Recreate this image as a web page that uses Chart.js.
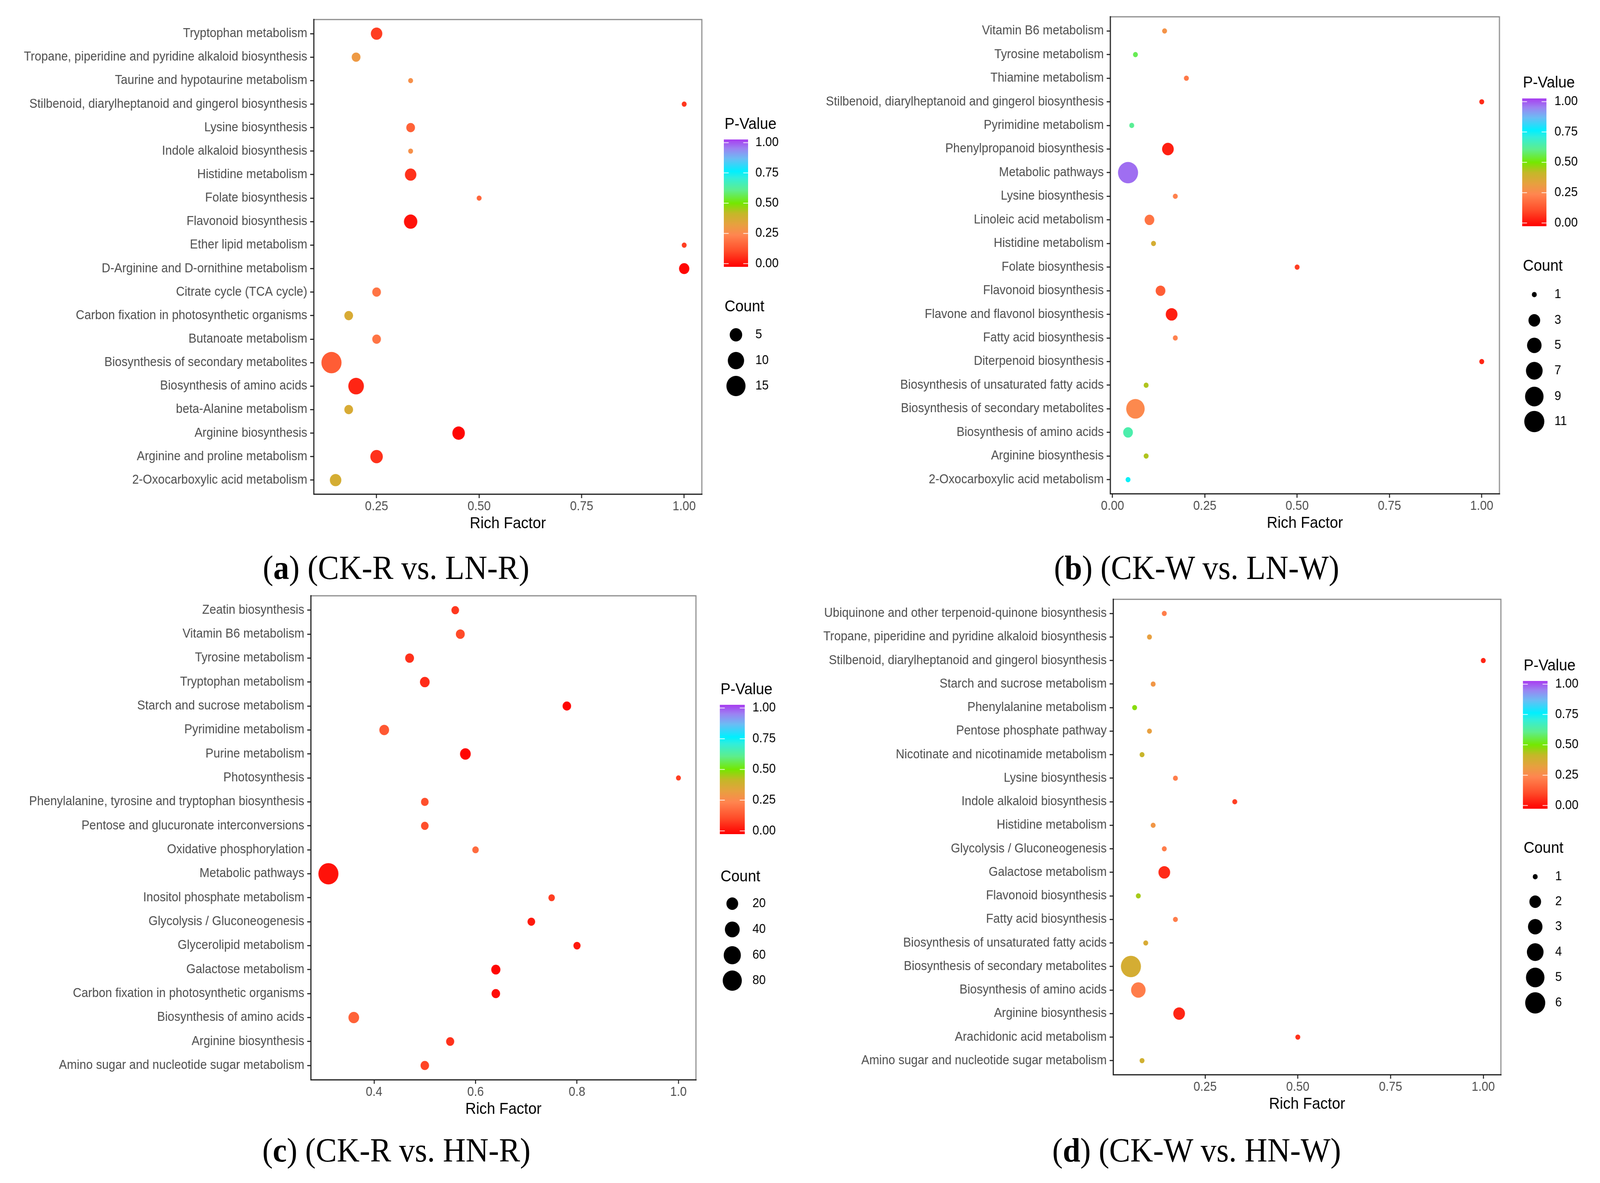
<!DOCTYPE html>
<html><head><meta charset="utf-8">
<script src="https://cdn.jsdelivr.net/npm/chart.js@4.4.1/dist/chart.umd.min.js"></script>
<style>
html,body{margin:0;padding:0;background:#fff;overflow:hidden;}
#page{width:4359px;height:3028px;position:relative;overflow:hidden;background:#fff;transform-origin:0 0;}
.panel{position:absolute;}
.cap{position:absolute;transform:translate(-50%,-50%);font-family:"Liberation Serif","Times New Roman",serif;font-size:86px;color:#000;white-space:nowrap;line-height:1;}
</style></head><body>
<div id="page">
<div class="panel" style="left:0px;top:0px"><canvas id="cA" width="2180" height="1400"></canvas></div>
<div class="panel" style="left:2180px;top:0px"><canvas id="cB" width="2179" height="1400"></canvas></div>
<div class="panel" style="left:0px;top:1480px"><canvas id="cC" width="2180" height="1400"></canvas></div>
<div class="panel" style="left:2180px;top:1480px"><canvas id="cD" width="2179" height="1400"></canvas></div>
<div class="cap" style="left:1079px;top:1453px">(<b>a</b>) (CK-R vs. LN-R)</div>
<div class="cap" style="left:3260px;top:1453px">(<b>b</b>) (CK-W vs. LN-W)</div>
<div class="cap" style="left:1080px;top:2944px">(<b>c</b>) (CK-R vs. HN-R)</div>
<div class="cap" style="left:3260px;top:2944px">(<b>d</b>) (CK-W vs. HN-W)</div>
</div>
<script>
// fit the 4359-wide page into the actual window width
(function(){
  const sx = Math.min(1, window.innerWidth/4359);
  const sy = Math.min(1, window.innerHeight/3028);
  document.getElementById('page').style.transform='scale('+sx+','+sy+')';
})();

// ---------------- DATA ----------------
const catsA = ["Tryptophan metabolism","Tropane, piperidine and pyridine alkaloid biosynthesis","Taurine and hypotaurine metabolism","Stilbenoid, diarylheptanoid and gingerol biosynthesis","Lysine biosynthesis","Indole alkaloid biosynthesis","Histidine metabolism","Folate biosynthesis","Flavonoid biosynthesis","Ether lipid metabolism","D-Arginine and D-ornithine metabolism","Citrate cycle (TCA cycle)","Carbon fixation in photosynthetic organisms","Butanoate metabolism","Biosynthesis of secondary metabolites","Biosynthesis of amino acids","beta-Alanine metabolism","Arginine biosynthesis","Arginine and proline metabolism","2-Oxocarboxylic acid metabolism"];
const richA = [0.25,0.20,0.333,1.0,0.333,0.333,0.333,0.5,0.333,1.0,1.0,0.25,0.182,0.25,0.14,0.20,0.182,0.45,0.25,0.15];
const countA = [4,2,1,1,2,1,4,1,6,1,3,2,2,2,17,9,2,5,5,4];
const pvalA = [0.10,0.31,0.28,0.09,0.17,0.28,0.08,0.18,0.03,0.10,0.01,0.21,0.37,0.21,0.16,0.06,0.37,0.01,0.08,0.38];
const xTicksA = [0.25,0.50,0.75,1.00];
const countBreaksA = [5,10,15];

const catsB = ["Vitamin B6 metabolism","Tyrosine metabolism","Thiamine metabolism","Stilbenoid, diarylheptanoid and gingerol biosynthesis","Pyrimidine metabolism","Phenylpropanoid biosynthesis","Metabolic pathways","Lysine biosynthesis","Linoleic acid metabolism","Histidine metabolism","Folate biosynthesis","Flavonoid biosynthesis","Flavone and flavonol biosynthesis","Fatty acid biosynthesis","Diterpenoid biosynthesis","Biosynthesis of unsaturated fatty acids","Biosynthesis of secondary metabolites","Biosynthesis of amino acids","Arginine biosynthesis","2-Oxocarboxylic acid metabolism"];
const richB = [0.141,0.062,0.20,1.0,0.052,0.15,0.042,0.17,0.10,0.111,0.5,0.13,0.16,0.17,1.0,0.091,0.062,0.042,0.091,0.042];
const countB = [1,1,1,1,1,3,11,1,2,1,1,2,3,1,1,1,9,2,1,1];
const pvalB = [0.29,0.56,0.22,0.07,0.61,0.05,0.95,0.24,0.21,0.38,0.10,0.16,0.05,0.24,0.06,0.44,0.26,0.64,0.44,0.74];
const xTicksB = [0.00,0.25,0.50,0.75,1.00];
const countBreaksB = [1,3,5,7,9,11];

const catsC = ["Zeatin biosynthesis","Vitamin B6 metabolism","Tyrosine metabolism","Tryptophan metabolism","Starch and sucrose metabolism","Pyrimidine metabolism","Purine metabolism","Photosynthesis","Phenylalanine, tyrosine and tryptophan biosynthesis","Pentose and glucuronate interconversions","Oxidative phosphorylation","Metabolic pathways","Inositol phosphate metabolism","Glycolysis / Gluconeogenesis","Glycerolipid metabolism","Galactose metabolism","Carbon fixation in photosynthetic organisms","Biosynthesis of amino acids","Arginine biosynthesis","Amino sugar and nucleotide sugar metabolism"];
const richC = [0.56,0.57,0.47,0.50,0.78,0.42,0.58,1.0,0.50,0.50,0.60,0.31,0.75,0.71,0.80,0.64,0.64,0.36,0.55,0.50];
const countC = [5,8,8,11,7,11,15,2,5,5,3,91,3,5,4,9,7,15,6,7];
const pvalC = [0.09,0.12,0.08,0.07,0.01,0.15,0.01,0.10,0.13,0.13,0.19,0.03,0.10,0.04,0.04,0.01,0.02,0.17,0.08,0.11];
const xTicksC = [0.4,0.6,0.8,1.0];
const countBreaksC = [20,40,60,80];

const catsD = ["Ubiquinone and other terpenoid-quinone biosynthesis","Tropane, piperidine and pyridine alkaloid biosynthesis","Stilbenoid, diarylheptanoid and gingerol biosynthesis","Starch and sucrose metabolism","Phenylalanine metabolism","Pentose phosphate pathway","Nicotinate and nicotinamide metabolism","Lysine biosynthesis","Indole alkaloid biosynthesis","Histidine metabolism","Glycolysis / Gluconeogenesis","Galactose metabolism","Flavonoid biosynthesis","Fatty acid biosynthesis","Biosynthesis of unsaturated fatty acids","Biosynthesis of secondary metabolites","Biosynthesis of amino acids","Arginine biosynthesis","Arachidonic acid metabolism","Amino sugar and nucleotide sugar metabolism"];
const richD = [0.14,0.10,1.0,0.11,0.06,0.10,0.08,0.17,0.33,0.11,0.14,0.14,0.07,0.17,0.09,0.05,0.07,0.18,0.50,0.08];
const countD = [1,1,1,1,1,1,1,1,1,1,1,2,1,1,1,6,3,2,1,1];
const pvalD = [0.23,0.33,0.06,0.30,0.48,0.33,0.41,0.23,0.10,0.30,0.23,0.07,0.45,0.23,0.37,0.38,0.23,0.06,0.08,0.39];
const xTicksD = [0.25,0.50,0.75,1.00];
const countBreaksD = [1,2,3,4,5,6];

const pBreaks = [0,0.25,0.5,0.75,1];

// ---------------- STYLE HELPERS ----------------
const FONT = '"Liberation Sans", Arial, sans-serif';
const colorStops = [[0,'#FF0000'],[0.125,'#FF4D2A'],[0.25,'#FF8650'],[0.33,'#E8A040'],[0.42,'#C4B828'],[0.5,'#74E800'],[0.6,'#5EEE8C'],[0.7,'#30EEDD'],[0.75,'#00F0FF'],[0.85,'#6CBCF4'],[0.93,'#9C82F2'],[1,'#A83CF0']];
function hex2rgb(h){return [parseInt(h.substr(1,2),16),parseInt(h.substr(3,2),16),parseInt(h.substr(5,2),16)];}
function pColor(p){
  p=Math.max(0,Math.min(1,p));
  for(let i=1;i<colorStops.length;i++){
    if(p<=colorStops[i][0]){
      const a=colorStops[i-1], b=colorStops[i];
      const t=(p-a[0])/(b[0]-a[0]);
      const ca=hex2rgb(a[1]), cb=hex2rgb(b[1]);
      const c=ca.map((v,k)=>Math.round(v+(cb[k]-v)*t));
      return 'rgb('+c.join(',')+')';
    }
  }
  return colorStops[colorStops.length-1][1];
}
function sizeOf(c,cmin,cmax){const t=cmax>cmin?(c-cmin)/(cmax-cmin):0;return 1+5*Math.sqrt(Math.max(0,t));}
function radiusOf(c,cmin,cmax){return (8.26*sizeOf(c,cmin,cmax)+5.14)/2;}

const boxPlugin={id:'box',afterDraw(chart){
  const a=chart.chartArea, ctx=chart.ctx;
  ctx.save();ctx.lineWidth=3;ctx.lineCap='square';
  ctx.strokeStyle='#8C8C8C';
  ctx.beginPath();ctx.moveTo(a.left,a.top);ctx.lineTo(a.right,a.top);ctx.lineTo(a.right,a.bottom);ctx.stroke();
  ctx.strokeStyle='#1A1A1A';
  ctx.beginPath();ctx.moveTo(a.left,a.top);ctx.lineTo(a.left,a.bottom);ctx.lineTo(a.right,a.bottom);ctx.stroke();
  ctx.restore();
}};
const legendPlugin={id:'pvLegend',afterDraw(chart,args,o){
  const ctx=chart.ctx;ctx.save();
  ctx.textAlign='left';ctx.textBaseline='middle';ctx.fillStyle='#000';
  ctx.font='40.6px '+FONT;
  ctx.fillText('P-Value',o.barX+2,o.titleY);
  const g=ctx.createLinearGradient(0,o.barY+o.barH,0,o.barY);
  colorStops.forEach(s=>g.addColorStop(s[0],s[1]));
  ctx.fillStyle=g;ctx.fillRect(o.barX,o.barY,o.barW,o.barH);
  const inset=o.barH*0.025;
  ctx.font='32.5px '+FONT;
  pBreaks.forEach(b=>{
    const y=o.barY+o.barH-inset-b*(o.barH-2*inset);
    ctx.strokeStyle='rgba(255,255,255,0.85)';ctx.lineWidth=2;
    ctx.beginPath();ctx.moveTo(o.barX,y);ctx.lineTo(o.barX+o.barW/5,y);
    ctx.moveTo(o.barX+o.barW*4/5,y);ctx.lineTo(o.barX+o.barW,y);ctx.stroke();
    ctx.fillStyle='#000';ctx.fillText(b.toFixed(2),o.labelX,y);
  });
  ctx.font='40.6px '+FONT;
  ctx.fillText('Count',o.barX+2,o.countY);
  ctx.font='32.5px '+FONT;
  const cx=o.barX+o.barW/2;
  o.breaks.forEach((b,i)=>{
    const r=radiusOf(b,o.cmin,o.cmax);
    ctx.fillStyle='#000';ctx.beginPath();ctx.arc(cx,o.dotYs[i],r,0,Math.PI*2);ctx.fill();
    ctx.fillText(String(b),o.labelX,o.dotYs[i]);
  });
  ctx.restore();
}};

function makeChart(id,cats,rich,counts,pvals,xTicks,dec,countBreaks,lay,leg){
  const n=cats.length;
  const rmin=Math.min(...rich), rmax=Math.max(...rich), span=rmax-rmin;
  const cmin=Math.min(...counts), cmax=Math.max(...counts);
  const canvas=document.getElementById(id);
  const gridOpts={display:true,drawOnChartArea:false,drawTicks:true,tickLength:10,tickWidth:3,tickColor:'#333333'};
  leg.breaks=countBreaks;leg.cmin=cmin;leg.cmax=cmax;
  new Chart(canvas,{
    type:'bubble',
    data:{datasets:[{
      data:rich.map((x,i)=>({x:x,y:i,r:radiusOf(counts[i],cmin,cmax)})),
      backgroundColor:pvals.map(pColor),
      borderWidth:0,hoverBorderWidth:0,hoverRadius:0,clip:false
    }]},
    options:{
      responsive:false,devicePixelRatio:1,animation:false,events:[],
      layout:{padding:{left:0,right:lay.W-lay.R,top:lay.T,bottom:lay.H-lay.B-100}},
      plugins:{legend:{display:false},tooltip:{enabled:false},pvLegend:leg},
      scales:{
        x:{type:'linear',position:'bottom',min:rmin-0.05*span,max:rmax+0.05*span,
          afterBuildTicks:s=>{s.ticks=xTicks.map(v=>({value:v}));},
          afterFit:s=>{s.height=100;},
          grid:gridOpts,border:{display:false},
          ticks:{padding:3,color:'#4D4D4D',font:{family:FONT,size:32.5},maxRotation:0,autoSkip:false,callback:v=>Number(v).toFixed(dec)},
          title:{display:true,text:'Rich Factor',color:'#000',font:{family:FONT,size:40.6},padding:0}
        },
        y:{type:'linear',position:'left',reverse:true,min:-0.6,max:n-1+0.6,
          afterBuildTicks:s=>{s.ticks=cats.map((c,i)=>({value:i}));},
          afterFit:s=>{s.width=lay.L;},
          grid:gridOpts,border:{display:false},
          ticks:{padding:8,color:'#4D4D4D',font:{family:FONT,size:32.5},autoSkip:false,callback:v=>cats[Math.round(v)]}
        }
      }
    },
    plugins:[boxPlugin,legendPlugin]
  });
}

makeChart('cA',catsA,richA,countA,pvalA,xTicksA,2,countBreaksA,
  {W:2180,H:1400,L:855,R:1912,T:50,B:1265},
  {barX:1972,barY:357,barW:66,barH:326,titleY:319,labelX:2058,countY:786,dotYs:[857,923,988]});
makeChart('cB',catsB,richB,countB,pvalB,xTicksB,2,countBreaksB,
  {W:2179,H:1400,L:845,R:1905,T:43,B:1264},
  {barX:1967,barY:252,barW:66,barH:327,titleY:213,labelX:2055,countY:682,dotYs:[754,820,884,949,1015,1079]});
makeChart('cC',catsC,richC,countC,pvalC,xTicksC,1,countBreaksC,
  {W:2180,H:1400,L:847,R:1896,T:45,B:1284},
  {barX:1961,barY:324,barW:68,barH:331,titleY:286,labelX:2050,countY:765,dotYs:[833,899,965,1030]});
makeChart('cD',catsD,richD,countD,pvalD,xTicksD,2,countBreaksD,
  {W:2179,H:1400,L:853,R:1909,T:54,B:1271},
  {barX:1969,barY:263,barW:67,barH:327,titleY:225,labelX:2057,countY:692,dotYs:[764,828,892,957,1022,1087]});
</script>
</body></html>
